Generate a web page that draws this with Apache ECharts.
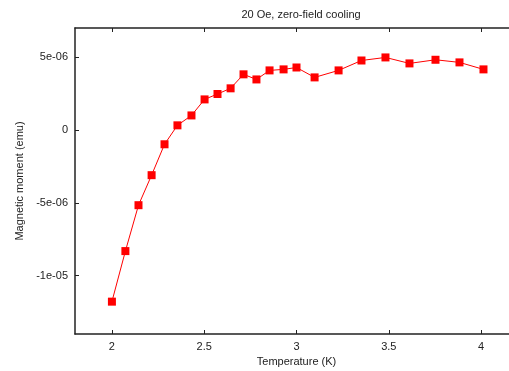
<!DOCTYPE html>
<html>
<head>
<meta charset="utf-8">
<script src="https://cdn.jsdelivr.net/npm/echarts@6/dist/echarts.min.js"></script>
<style>html,body{margin:0;padding:0;background:#fff}#c{width:509px;height:371px}</style>
</head>
<body>
<div id="c"></div>
<script>
const temperature = [2.0, 2.073, 2.144, 2.215, 2.285, 2.355, 2.431, 2.502, 2.572, 2.643, 2.713, 2.783, 2.854, 2.930, 3.0, 3.098, 3.228, 3.352, 3.482, 3.612, 3.753, 3.883, 4.013];
const moment = [-11.78e-6, -8.31e-6, -5.16e-6, -3.10e-6, -0.98e-6, 0.32e-6, 1.0e-6, 2.10e-6, 2.47e-6, 2.86e-6, 3.82e-6, 3.47e-6, 4.09e-6, 4.16e-6, 4.29e-6, 3.61e-6, 4.09e-6, 4.77e-6, 4.98e-6, 4.57e-6, 4.82e-6, 4.64e-6, 4.16e-6];
const xTicks = [2, 2.5, 3, 3.5, 4];
const yTicks = [-1e-5, -5e-6, 0, 5e-6];
const yTickLabels = ['-1e-05', '-5e-06', '0', '5e-06'];

const font = 'Liberation Sans';
const chart = echarts.init(document.getElementById('c'));
const data = temperature.map((t, i) => [t, moment[i]]);
chart.setOption({
  animation: false,
  title: {
    text: '20 Oe, zero-field cooling',
    left: 296, top: 4, textAlign: 'center',
    textStyle: {fontFamily: font, fontSize: 11, fontWeight: 'normal', color: '#222'}
  },
  grid: {left: 75, top: 28, width: 443, height: 306, containLabel: false, outerBoundsMode: 'none'},
  xAxis: [{
    type: 'value', min: 1.8, max: 4.2, position: 'bottom',
    name: 'Temperature (K)', nameLocation: 'middle', nameGap: 21,
    nameTextStyle: {fontFamily: font, fontSize: 11, color: '#222'},
    axisLine: {onZero: false, lineStyle: {color: '#222', width: 1.5}},
    axisTick: {inside: true, length: 4, customValues: xTicks, lineStyle: {color: '#222'}},
    axisLabel: {customValues: xTicks, fontFamily: font, fontSize: 11, color: '#222', margin: 7},
    splitLine: {show: false}
  }, {
    type: 'value', min: 1.8, max: 4.2, position: 'top',
    axisLine: {onZero: false, lineStyle: {color: '#222', width: 1.5}},
    axisTick: {inside: true, length: 4, customValues: xTicks, lineStyle: {color: '#222'}},
    axisLabel: {show: false},
    splitLine: {show: false}
  }],
  yAxis: [{
    type: 'value', min: -1.4e-5, max: 7e-6,
    name: 'Magnetic moment (emu)', nameLocation: 'middle', nameGap: 49, nameRotate: 90,
    nameTextStyle: {fontFamily: font, fontSize: 11, color: '#222'},
    axisLine: {show: true, onZero: false, lineStyle: {color: '#222', width: 1.5}},
    axisTick: {show: true, inside: true, length: 4, customValues: yTicks, lineStyle: {color: '#222'}},
    axisLabel: {customValues: yTicks, fontFamily: font, fontSize: 11, color: '#222', margin: 7,
      formatter: v => { const i = yTicks.findIndex(t => Math.abs(t - v) < 1e-9); return i >= 0 ? yTickLabels[i] : ''; }},
    splitLine: {show: false}
  }],
  series: [{
    type: 'line', data: data, xAxisIndex: 0, yAxisIndex: 0,
    symbol: 'rect', symbolSize: 8,
    itemStyle: {color: '#ff0000'},
    lineStyle: {color: '#ff0000', width: 1}
  }]
});
</script>
</body>
</html>
